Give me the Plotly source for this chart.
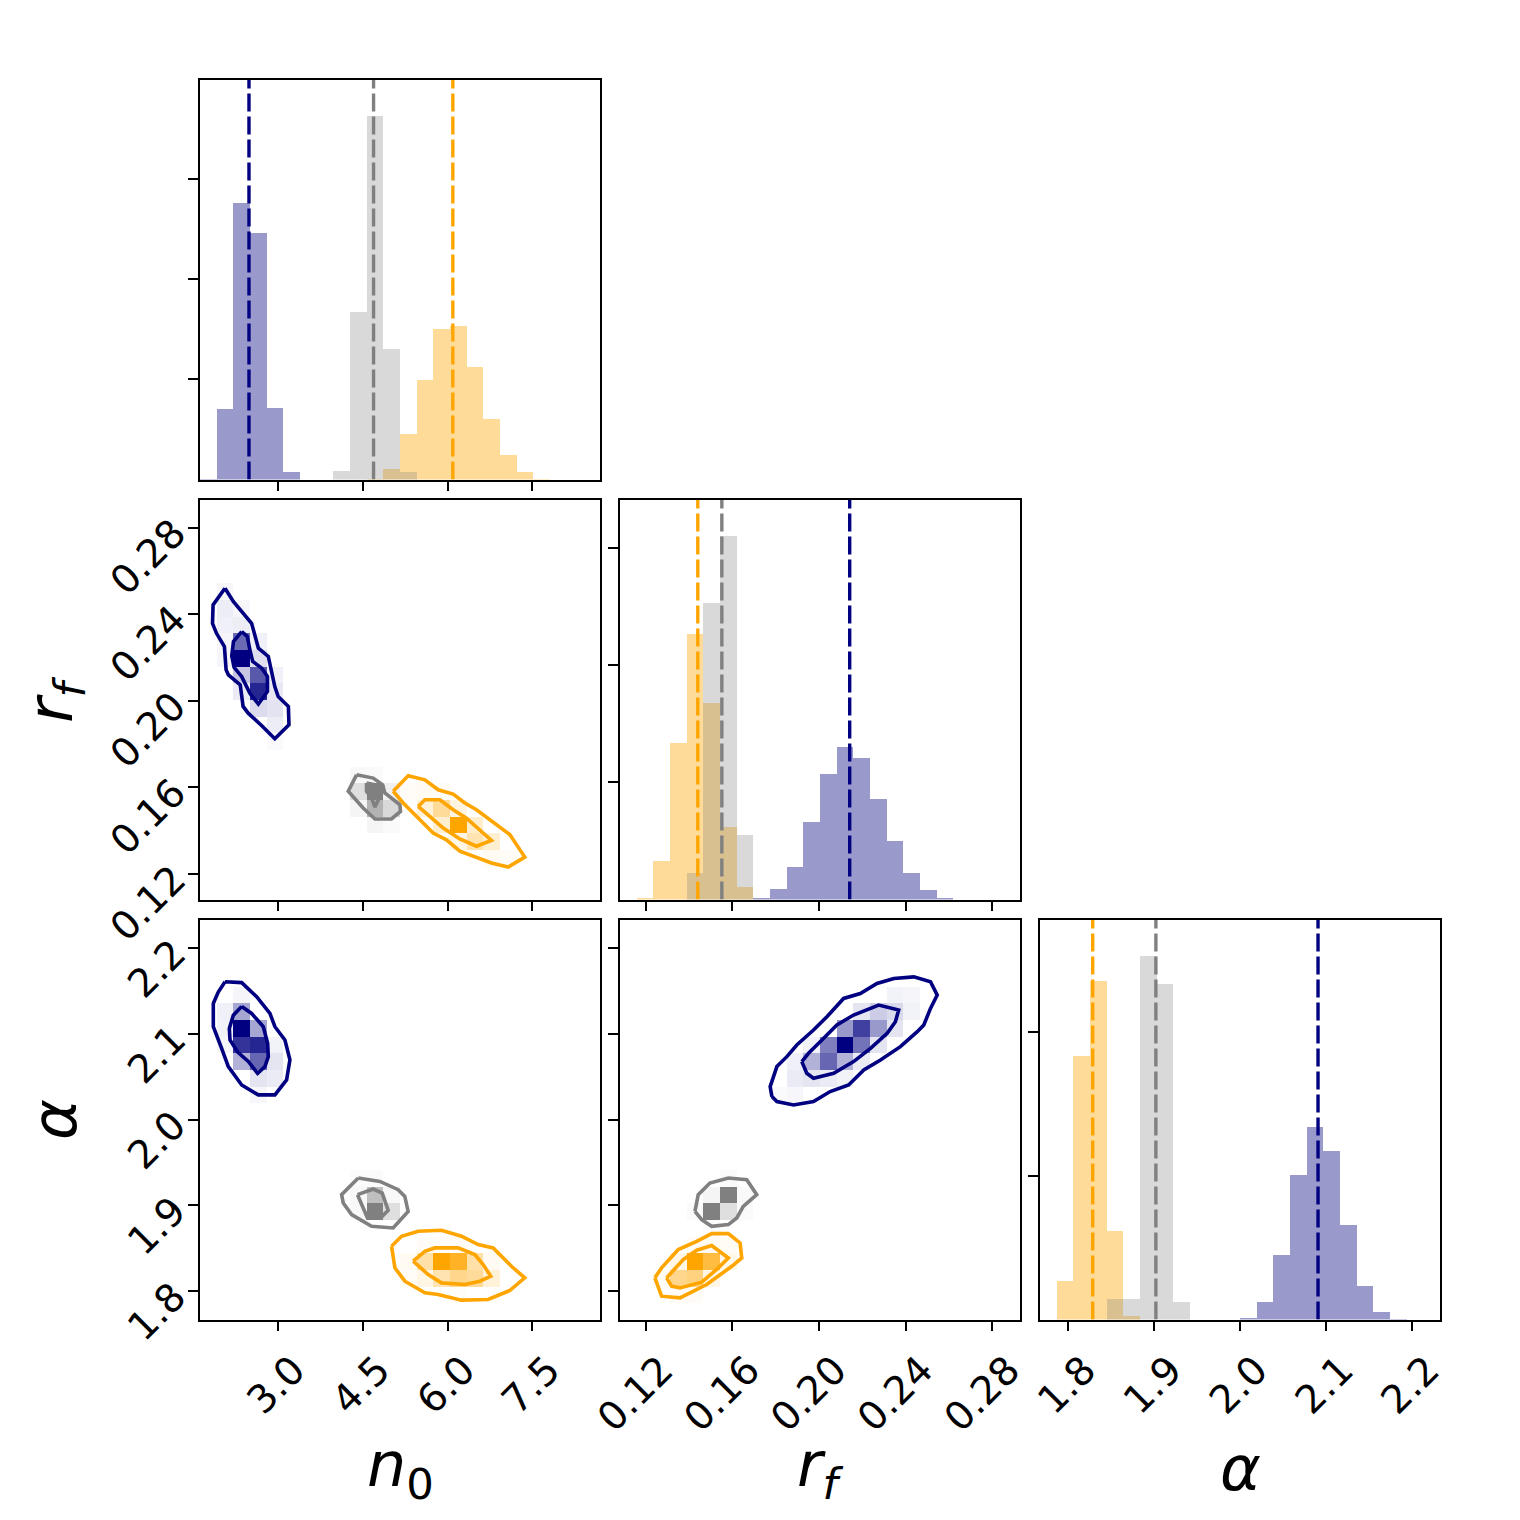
import plotly.graph_objects as go

# ---------------- data ----------------
N_BINS = 24
N0_RANGE = [1.629, 8.693]
RF_RANGE = [0.1082, 0.2928]
AL_RANGE = [1.767, 2.233]

N0_TICKS = [3.0, 4.5, 6.0, 7.5]
RF_TICKS = [0.12, 0.16, 0.20, 0.24, 0.28]
AL_TICKS = [1.8, 1.9, 2.0, 2.1, 2.2]
N0_TICK_TEXT = ["3.0", "4.5", "6.0", "7.5"]
RF_TICK_TEXT = ["0.12", "0.16", "0.20", "0.24", "0.28"]
AL_TICK_TEXT = ["1.8", "1.9", "2.0", "2.1", "2.2"]

SERIES = ["navy", "orange", "gray"]
LINE_COLORS = {"navy": "rgb(0,0,128)", "orange": "rgb(255,165,0)", "gray": "rgb(128,128,128)"}
FILL_COLORS = {"navy": "rgba(0,0,128,0.4)", "orange": "rgba(255,165,0,0.4)", "gray": "rgba(128,128,128,0.3)"}

# 1D histograms (24 bins over the axis range, arbitrary density units)
HIST_N0 = {
    "navy":   [0.01, 0.70, 2.76, 2.46, 0.71, 0.073, 0, 0, 0, 0, 0, 0, 0, 0, 0, 0, 0, 0, 0, 0, 0, 0, 0, 0],
    "orange": [0, 0, 0, 0, 0, 0, 0, 0, 0, 0, 0.01, 0.106, 0.45, 0.99, 1.50, 1.53, 1.12, 0.60, 0.24, 0.077, 0.01, 0, 0, 0],
    "gray":   [0, 0, 0, 0, 0, 0, 0, 0, 0.086, 1.67, 3.62, 1.30, 0.073, 0, 0, 0, 0, 0, 0, 0, 0, 0, 0, 0],
}
HIST_RF = {
    "navy":   [0, 0, 0, 0, 0, 0, 0, 0, 0.01, 0.09, 0.28, 0.66, 1.07, 1.30, 1.21, 0.86, 0.50, 0.23, 0.083, 0.011, 0, 0, 0, 0],
    "orange": [0, 0.014, 0.33, 1.34, 2.27, 1.68, 0.62, 0.11, 0, 0, 0, 0, 0, 0, 0, 0, 0, 0, 0, 0, 0, 0, 0, 0],
    "gray":   [0, 0, 0, 0, 0.23, 2.53, 3.10, 0.55, 0, 0, 0, 0, 0, 0, 0, 0, 0, 0, 0, 0, 0, 0, 0, 0],
}
HIST_AL = {
    "navy":   [0, 0, 0, 0, 0, 0, 0, 0, 0, 0, 0, 0, 0.009, 0.123, 0.449, 1.007, 1.342, 1.174, 0.658, 0.233, 0.051, 0.005, 0, 0],
    "orange": [0, 0.267, 1.835, 2.353, 0.616, 0.023, 0, 0, 0, 0, 0, 0, 0, 0, 0, 0, 0, 0, 0, 0, 0, 0, 0, 0],
    "gray":   [0, 0, 0, 0, 0.142, 0.142, 2.528, 2.333, 0.121, 0, 0, 0, 0, 0, 0, 0, 0, 0, 0, 0, 0, 0, 0, 0],
}
HIST_YTICKS_N0 = [1, 2, 3]
HIST_YTICKS_RF = [1, 2, 3]
HIST_YTICKS_AL = [1, 2]

MEDIAN_N0 = {"navy": 2.494, "orange": 6.094, "gray": 4.694}
MEDIAN_RF = {"navy": 0.2142, "orange": 0.1441, "gray": 0.1552}
MEDIAN_AL = {"navy": 2.0909, "orange": 1.8284, "gray": 1.902}

# 2D histogram cells: (x bin, y bin, relative density)
CELLS_N0_RF = {
    "navy": [(1, 18, 0.03), (1, 17, 0.07), (2, 17, 0.03), (1, 16, 0.06), (2, 16, 0.07), (1, 15, 0.04),
             (2, 15, 0.58), (3, 15, 0.06), (1, 14, 0.04), (2, 14, 1.0), (3, 14, 0.13), (2, 13, 0.22),
             (3, 13, 0.65), (4, 13, 0.06), (2, 12, 0.08), (3, 12, 0.85), (4, 12, 0.09), (3, 11, 0.14),
             (4, 11, 0.11), (4, 10, 0.07), (4, 9, 0.02)],
    "gray": [(9, 7, 0.05), (10, 7, 0.04), (9, 6, 0.25), (10, 6, 1.0), (11, 6, 0.12), (9, 5, 0.08),
             (10, 5, 0.6), (11, 5, 0.3), (10, 4, 0.08), (11, 4, 0.04)],
    "orange": [(12, 6, 0.03), (13, 6, 0.05), (14, 6, 0.03), (13, 5, 0.15), (14, 5, 0.4), (15, 5, 0.12),
               (14, 4, 0.18), (15, 4, 1.0), (16, 4, 0.2), (15, 3, 0.1), (16, 3, 0.3), (17, 3, 0.18),
               (17, 2, 0.05), (18, 2, 0.03)],
}
CELLS_N0_AL = {
    "navy": [(2, 19, 0.04), (1, 18, 0.06), (2, 18, 0.35), (1, 17, 0.05), (2, 17, 1.0), (3, 17, 0.35),
             (1, 16, 0.04), (2, 16, 0.8), (3, 16, 0.85), (4, 16, 0.05), (2, 15, 0.3), (3, 15, 0.6),
             (4, 15, 0.1), (3, 14, 0.1), (4, 14, 0.08), (3, 13, 0.03)],
    "gray": [(9, 8, 0.03), (10, 8, 0.03), (9, 7, 0.06), (10, 7, 0.5), (11, 7, 0.06), (9, 6, 0.06),
             (10, 6, 1.0), (11, 6, 0.25)],
    "orange": [(12, 3, 0.05), (13, 3, 0.35), (14, 3, 1.0), (15, 3, 0.85), (16, 3, 0.35), (17, 3, 0.05),
               (12, 2, 0.03), (13, 2, 0.1), (14, 2, 0.3), (15, 2, 0.45), (16, 2, 0.4), (17, 2, 0.15),
               (13, 4, 0.03), (14, 4, 0.03), (15, 4, 0.03), (15, 1, 0.02)],
}
CELLS_RF_AL = {
    "navy": [(13, 16, 1.0), (14, 17, 0.75), (13, 17, 0.4), (15, 17, 0.4), (14, 16, 0.55), (12, 16, 0.5),
             (12, 15, 0.6), (11, 15, 0.3), (13, 15, 0.3), (15, 16, 0.1), (14, 18, 0.1), (15, 18, 0.2),
             (16, 18, 0.15), (16, 17, 0.1), (16, 19, 0.05), (17, 19, 0.04), (11, 16, 0.05), (10, 15, 0.06),
             (10, 14, 0.08), (11, 14, 0.1), (12, 14, 0.08), (13, 14, 0.05), (10, 13, 0.03), (9, 13, 0.02),
             (14, 15, 0.08), (17, 18, 0.05)],
    "gray": [(6, 7, 1.0), (5, 6, 1.0), (6, 6, 0.25), (5, 7, 0.08), (7, 7, 0.05), (4, 6, 0.04),
             (7, 6, 0.04), (5, 5, 0.03), (6, 8, 0.04)],
    "orange": [(4, 3, 1.0), (5, 3, 0.75), (4, 2, 0.5), (3, 2, 0.45), (6, 3, 0.08), (3, 3, 0.1),
               (5, 4, 0.05), (6, 4, 0.04), (5, 2, 0.1), (4, 4, 0.04), (2, 2, 0.03), (3, 1, 0.03), (4, 1, 0.03)],
}

# credible-region contours (x, y) in data units
CONT_N0_RF = {
    "navy": [
        [(2.07, 0.252), (2.22, 0.2458), (2.54, 0.2358), (2.60, 0.2297), (2.66, 0.2243), (2.835, 0.2205),
         (2.89, 0.2143), (2.95, 0.2066), (3.01, 0.2020), (3.19, 0.1974), (3.20, 0.1889), (2.95, 0.1825),
         (2.72, 0.1885), (2.48, 0.1943), (2.39, 0.1974), (2.36, 0.2035), (2.34, 0.2074), (2.13, 0.212),
         (2.09, 0.2143), (2.06, 0.2251), (1.92, 0.2312), (1.85, 0.2358), (1.86, 0.2443)],
        [(2.365, 0.232), (2.465, 0.2297), (2.51, 0.2235), (2.56, 0.2182), (2.72, 0.2151), (2.82, 0.2112),
         (2.82, 0.2043), (2.66, 0.1985), (2.51, 0.2035), (2.365, 0.2112), (2.23, 0.2155), (2.19, 0.2208),
         (2.22, 0.2274)],
    ],
    "gray": [
        [(4.394, 0.1658), (4.688, 0.1643), (4.853, 0.1612), (4.894, 0.1574), (5.159, 0.1520), (5.17, 0.1489),
         (5.01, 0.1454), (4.718, 0.1454), (4.51, 0.1505), (4.247, 0.1582)],
        [(4.57, 0.162), (4.853, 0.1605), (4.806, 0.1558), (4.718, 0.1509), (4.659, 0.1551), (4.57, 0.1582)],
    ],
    "orange": [
        [(5.041, 0.1582), (5.306, 0.1654), (5.60, 0.1635), (5.835, 0.1589), (6.10, 0.1569), (6.306, 0.1528),
         (6.512, 0.1497), (7.10, 0.1382), (7.365, 0.1278), (7.071, 0.1232), (6.776, 0.1251), (6.218, 0.1305),
         (5.982, 0.1358), (5.747, 0.1389), (5.218, 0.1528)],
        [(5.482, 0.1512), (5.60, 0.1543), (5.865, 0.1543), (6.10, 0.1497), (6.335, 0.1458), (6.512, 0.1417),
         (6.776, 0.1355), (6.512, 0.1328), (6.218, 0.1362), (5.924, 0.1412), (5.688, 0.1463)],
    ],
}
CONT_N0_AL = {
    "navy": [
        [(2.071, 2.161), (2.365, 2.160), (2.629, 2.1435), (2.864, 2.124), (2.952, 2.1085), (3.129, 2.093),
         (3.217, 2.070), (3.158, 2.0464), (2.952, 2.029), (2.658, 2.029), (2.365, 2.0406), (2.129, 2.062),
         (2.011, 2.0833), (1.864, 2.1085), (1.864, 2.1357), (1.952, 2.149)],
        [(2.365, 2.132), (2.541, 2.124), (2.747, 2.1085), (2.824, 2.089), (2.835, 2.0736), (2.776, 2.062),
         (2.647, 2.054), (2.482, 2.068), (2.294, 2.079), (2.159, 2.093), (2.147, 2.1066), (2.218, 2.122)],
    ],
    "gray": [
        [(4.424, 1.932), (4.806, 1.928), (5.129, 1.9184), (5.246, 1.9106), (5.305, 1.893), (5.04, 1.8738),
         (4.659, 1.8757), (4.306, 1.8893), (4.159, 1.9029), (4.13, 1.9126)],
        [(4.411, 1.9126), (4.688, 1.9192), (4.847, 1.9145), (4.952, 1.8943), (4.835, 1.8866), (4.588, 1.8854),
         (4.511, 1.897)],
    ],
    "orange": [
        [(5.012, 1.8524), (5.188, 1.864), (5.482, 1.8699), (5.894, 1.8711), (6.247, 1.8641), (6.541, 1.8544),
         (6.806, 1.8505), (7.129, 1.8291), (7.364, 1.8156), (7.10, 1.8008), (6.717, 1.7903), (6.247, 1.7896),
         (5.835, 1.7962), (5.6, 1.7981), (5.247, 1.8117), (5.071, 1.8272)],
        [(5.394, 1.835), (5.6, 1.8466), (5.776, 1.8505), (6.188, 1.8505), (6.482, 1.8427), (6.629, 1.8311),
         (6.764, 1.8175), (6.57, 1.8117), (6.306, 1.8078), (5.894, 1.8097), (5.659, 1.8194)],
    ],
}
CONT_RF_AL = {
    "navy": [
        [(0.1783, 2.027), (0.1775, 2.0387), (0.1806, 2.062), (0.1852, 2.0736), (0.1898, 2.0872), (0.1975, 2.1047),
         (0.2037, 2.1202), (0.2114, 2.1415), (0.2191, 2.1473), (0.2268, 2.159), (0.2346, 2.1648), (0.2438, 2.1667),
         (0.2515, 2.1609), (0.2546, 2.1454), (0.2515, 2.1299), (0.2484, 2.1105), (0.2454, 2.1027), (0.2376, 2.0853),
         (0.2284, 2.0697), (0.2207, 2.0581), (0.2137, 2.0406), (0.2052, 2.0329), (0.1975, 2.0212), (0.1883, 2.0173),
         (0.1806, 2.0212)],
        [(0.1921, 2.0678), (0.1952, 2.0775), (0.2014, 2.093), (0.2083, 2.1105), (0.2160, 2.1221), (0.2276, 2.1338),
         (0.2368, 2.1279), (0.2353, 2.1144), (0.2315, 2.1008), (0.2238, 2.0833), (0.2160, 2.0678), (0.2068, 2.0542),
         (0.1975, 2.0484), (0.1944, 2.0542)],
    ],
    "gray": [
        [(0.1428, 1.8932), (0.1443, 1.9126), (0.1497, 1.9262), (0.1582, 1.932), (0.1667, 1.930), (0.1713, 1.9126),
         (0.1651, 1.899), (0.1621, 1.8854), (0.1582, 1.8777), (0.1505, 1.8757), (0.1459, 1.8835)],
    ],
    "orange": [
        [(0.1243, 1.8156), (0.1274, 1.8272), (0.1351, 1.8486), (0.1436, 1.8582), (0.1505, 1.8672), (0.1582, 1.8672),
         (0.1636, 1.8563), (0.1644, 1.8388), (0.1598, 1.8291), (0.1528, 1.8156), (0.1482, 1.8078), (0.1405, 1.7981),
         (0.1359, 1.7923), (0.1274, 1.7942)],
        [(0.1297, 1.8156), (0.1374, 1.8369), (0.1436, 1.8478), (0.1505, 1.8532), (0.1582, 1.8388), (0.1536, 1.8272),
         (0.1459, 1.8105), (0.1359, 1.8039), (0.132, 1.8059)],
    ],
}

# ---------------- figure ----------------
W = H = 1520
FONT = "DejaVu Sans"
TICK_FONT = dict(family=FONT, size=39, color="black")


def centers(rng):
    w = (rng[1] - rng[0]) / N_BINS
    return [rng[0] + (i + 0.5) * w for i in range(N_BINS)], w


fig = go.Figure()


def add_hist(hist, medians, rng, xa, ya):
    cx, w = centers(rng)
    for s in ["navy", "orange", "gray"]:
        fig.add_trace(go.Bar(x=cx, y=hist[s], width=w, marker=dict(color=FILL_COLORS[s], line=dict(width=0)),
                             xaxis=xa, yaxis=ya, hoverinfo="skip", showlegend=False))
    ytop = 1.1 * max(max(v) for v in hist.values())
    for s in ["navy", "orange", "gray"]:
        fig.add_trace(go.Scatter(x=[medians[s], medians[s]], y=[0, ytop], mode="lines",
                                 line=dict(color=LINE_COLORS[s], width=3.4, dash="18px,5px"),
                                 xaxis=xa, yaxis=ya, hoverinfo="skip", showlegend=False))
    return ytop


def add_2d(cells, conts, xr, yr, xa, ya):
    cx, _ = centers(xr)
    cy, _ = centers(yr)
    for s in ["navy", "gray", "orange"]:
        z = [[None] * N_BINS for _ in range(N_BINS)]
        for ix, iy, v in cells[s]:
            z[iy][ix] = v
        c = LINE_COLORS[s].replace("rgb(", "rgba(").replace(")", ",")
        fig.add_trace(go.Heatmap(x=cx, y=cy, z=z, zmin=0, zmax=1, zsmooth=False, showscale=False,
                                 colorscale=[[0, c + "0)"], [1, c + "1)"]],
                                 xaxis=xa, yaxis=ya, hoverinfo="skip"))
    for s in ["navy", "gray", "orange"]:
        for poly in conts[s]:
            xs = [p[0] for p in poly] + [poly[0][0]]
            ys = [p[1] for p in poly] + [poly[0][1]]
            fig.add_trace(go.Scatter(x=xs, y=ys, mode="lines", line=dict(color=LINE_COLORS[s], width=3.6),
                                     xaxis=xa, yaxis=ya, hoverinfo="skip", showlegend=False))


top_n0 = add_hist(HIST_N0, MEDIAN_N0, N0_RANGE, "x", "y")
add_2d(CELLS_N0_RF, CONT_N0_RF, N0_RANGE, RF_RANGE, "x2", "y2")
top_rf = add_hist(HIST_RF, MEDIAN_RF, RF_RANGE, "x3", "y3")
add_2d(CELLS_N0_AL, CONT_N0_AL, N0_RANGE, AL_RANGE, "x4", "y4")
add_2d(CELLS_RF_AL, CONT_RF_AL, RF_RANGE, AL_RANGE, "x5", "y5")
top_al = add_hist(HIST_AL, MEDIAN_AL, AL_RANGE, "x6", "y6")

# panel geometry (pixels)
COLS = [(200, 600), (620, 1020), (1040, 1440)]
ROWS = [(80, 479.5), (500, 899.5), (920, 1319.5)]


def xdom(c):
    return [COLS[c][0] / W, COLS[c][1] / W]


def ydom(r):
    return [1 - ROWS[r][1] / H, 1 - ROWS[r][0] / H]


def axis(domain, rng, ticks, text, labels, anchor, kind="y"):
    d = dict(domain=domain, range=rng, tickmode="array", tickvals=ticks, automargin=False,
             showticklabels=labels, ticks="outside", ticklen=10, tickwidth=1.7, tickcolor="black",
             showline=True, linewidth=1.7, linecolor="black", mirror=True, showgrid=False,
             zeroline=False, anchor=anchor, tickangle=-45, tickfont=TICK_FONT, fixedrange=True)
    if text is not None:
        d["ticktext"] = text
    if labels and kind == "x":
        d["ticklabelshift"] = 16
        d["ticklabelstandoff"] = 0
    if labels and kind == "y":
        d["ticklabelstandoff"] = 6
    return d


fig.update_layout(
    width=W, height=H, margin=dict(l=0, r=0, t=0, b=0, autoexpand=False),
    paper_bgcolor="white", plot_bgcolor="white", barmode="overlay", bargap=0,
    showlegend=False,
    xaxis=axis(xdom(0), N0_RANGE, N0_TICKS, N0_TICK_TEXT, False, "y", "x"),
    yaxis=axis(ydom(0), [0, top_n0], HIST_YTICKS_N0, None, False, "x"),
    xaxis2=axis(xdom(0), N0_RANGE, N0_TICKS, N0_TICK_TEXT, False, "y2", "x"),
    yaxis2=axis(ydom(1), RF_RANGE, RF_TICKS, RF_TICK_TEXT, True, "x2"),
    xaxis3=axis(xdom(1), RF_RANGE, RF_TICKS, RF_TICK_TEXT, False, "y3", "x"),
    yaxis3=axis(ydom(1), [0, top_rf], HIST_YTICKS_RF, None, False, "x3"),
    xaxis4=axis(xdom(0), N0_RANGE, N0_TICKS, N0_TICK_TEXT, True, "y4", "x"),
    yaxis4=axis(ydom(2), AL_RANGE, AL_TICKS, AL_TICK_TEXT, True, "x4"),
    xaxis5=axis(xdom(1), RF_RANGE, RF_TICKS, RF_TICK_TEXT, True, "y5", "x"),
    yaxis5=axis(ydom(2), AL_RANGE, AL_TICKS, AL_TICK_TEXT, False, "x5"),
    xaxis6=axis(xdom(2), AL_RANGE, AL_TICKS, AL_TICK_TEXT, True, "y6", "x"),
    yaxis6=axis(ydom(2), [0, top_al], HIST_YTICKS_AL, None, False, "x6"),
)

LABEL_FONT = dict(family=FONT, size=62, color="black")
labels = [
    ("<i>n</i><sub>0</sub>", 400, 1468, 0),
    ("<i>r</i><sub><i>f</i></sub>", 820, 1468, 0),
    ("<i>α</i>", 1240, 1468, 0),
    ("<i>r</i><sub><i>f</i></sub>", 54, 700, -90),
    ("<i>α</i>", 54, 1120, -90),
]
for t, px, py, ang in labels:
    fig.add_annotation(text=t, x=px / W, y=1 - py / H, xref="paper", yref="paper", showarrow=False,
                       xanchor="center", yanchor="middle", textangle=ang, font=LABEL_FONT)

fig.write_html("out.html", config={"displayModeBar": False},
               post_script="document.body.style.margin='0';document.body.style.overflow='hidden';")
